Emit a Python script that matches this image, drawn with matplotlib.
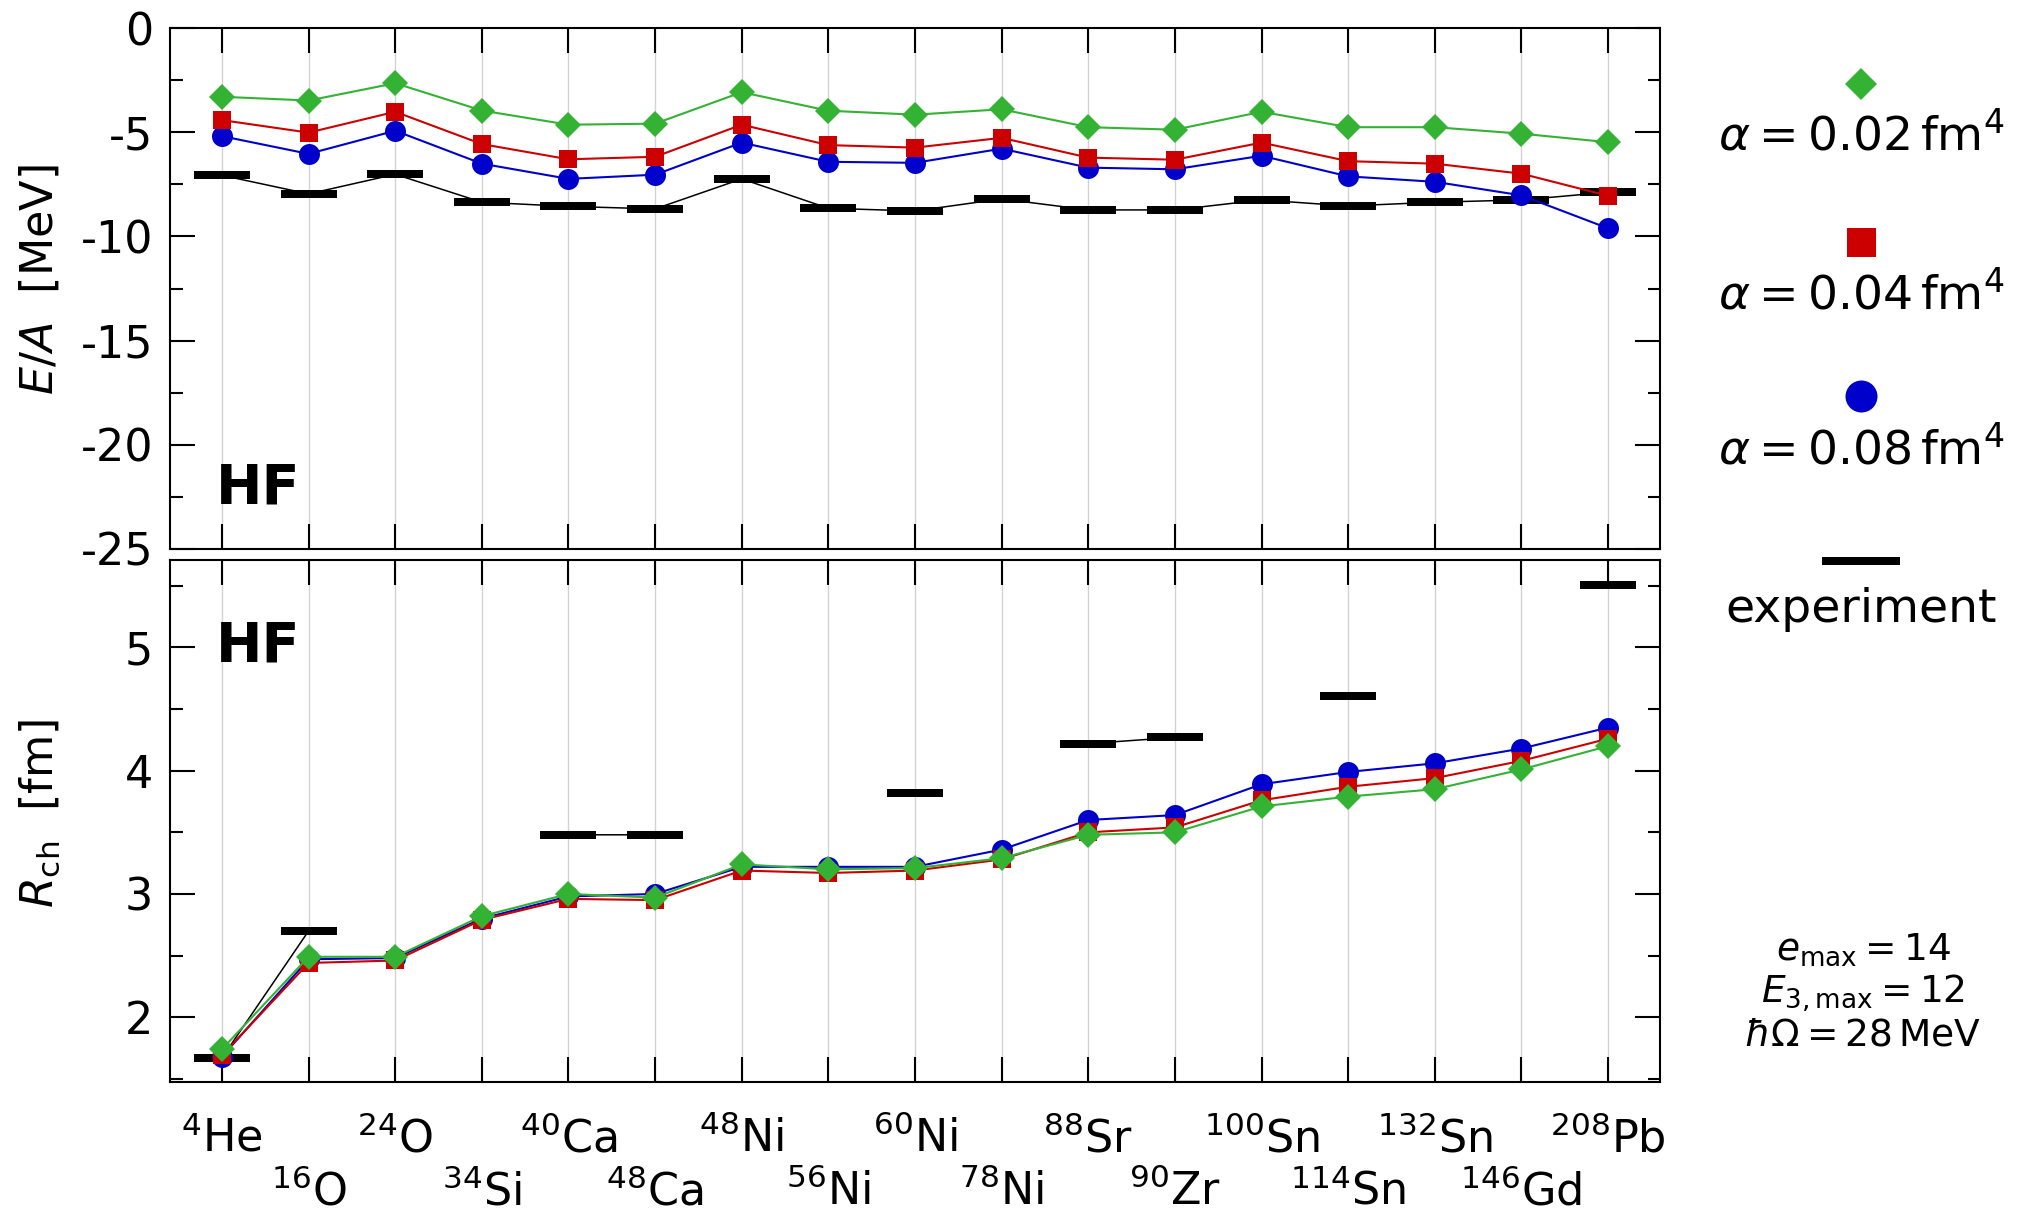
import numpy as np
import matplotlib
matplotlib.use("Agg")
import matplotlib.pyplot as plt
from matplotlib.ticker import MultipleLocator

plt.rcParams['font.family'] = ['DejaVu Sans']
plt.rcParams['mathtext.fontset'] = 'dejavusans'
plt.rcParams['axes.unicode_minus'] = False

# ---------------- data ----------------
nuclei = ['$^{4}$He', '$^{16}$O', '$^{24}$O', '$^{34}$Si', '$^{40}$Ca', '$^{48}$Ca',
          '$^{48}$Ni', '$^{56}$Ni', '$^{60}$Ni', '$^{78}$Ni', '$^{88}$Sr', '$^{90}$Zr',
          '$^{100}$Sn', '$^{114}$Sn', '$^{132}$Sn', '$^{146}$Gd', '$^{208}$Pb']

EA_002 = [-3.30, -3.48, -2.65, -3.96, -4.64, -4.59, -3.08, -3.97, -4.16, -3.90,
          -4.76, -4.88, -4.02, -4.76, -4.76, -5.07, -5.48]
EA_004 = [-4.42, -5.02, -4.02, -5.57, -6.30, -6.18, -4.64, -5.62, -5.74, -5.27,
          -6.22, -6.32, -5.50, -6.39, -6.51, -6.99, -8.05]
EA_008 = [-5.19, -6.04, -4.93, -6.51, -7.24, -7.04, -5.50, -6.42, -6.47, -5.79,
          -6.70, -6.78, -6.13, -7.12, -7.38, -8.03, -9.61]
EA_exp = [-7.07, -7.96, -7.02, -8.36, -8.56, -8.68, -7.24, -8.65, -8.78, -8.20,
          -8.73, -8.73, -8.25, -8.54, -8.36, -8.25, -7.88]

nan = np.nan
Rch_002 = [1.74, 2.49, 2.49, 2.82, 3.00, 2.97, 3.24, 3.20, 3.21, 3.29,
           3.48, 3.50, 3.71, 3.79, 3.85, 4.01, 4.20]
Rch_004 = [1.69, 2.44, 2.46, 2.79, 2.96, 2.95, 3.19, 3.17, 3.19, 3.28,
           3.50, 3.54, 3.76, 3.87, 3.94, 4.08, 4.26]
Rch_008 = [1.68, 2.47, 2.48, 2.80, 2.98, 3.00, 3.22, 3.22, 3.22, 3.36,
           3.60, 3.64, 3.89, 3.99, 4.06, 4.18, 4.35]
Rch_exp = [1.67, 2.70, nan, nan, 3.48, 3.48, nan, nan, 3.82, nan,
           4.22, 4.27, nan, 4.61, nan, nan, 5.51]

series_labels = [r'$\alpha = 0.02\,\mathrm{fm}^4$',
                 r'$\alpha = 0.04\,\mathrm{fm}^4$',
                 r'$\alpha = 0.08\,\mathrm{fm}^4$',
                 'experiment']
params_text = [r'$e_{\mathrm{max}} = 14$',
               r'$E_{3,\mathrm{max}} = 12$',
               r'$\hbar\Omega = 28\,\mathrm{MeV}$']

# ---------------- style ----------------
GREEN = '#33b233'
RED = '#cc0000'
BLUE = '#0000cc'
GRID = '#d2d2d2'
px = 72.0 / 100.0  # points per pixel at dpi 100

W, H = 2027, 1212
fig = plt.figure(figsize=(W / 100, H / 100), dpi=100)

L, R = 170, 1660
T1, B1 = 28, 549
T2, B2 = 560, 1082
ax1 = fig.add_axes([L / W, 1 - B1 / H, (R - L) / W, (B1 - T1) / H])
ax2 = fig.add_axes([L / W, 1 - B2 / H, (R - L) / W, (B2 - T2) / H])

x = np.arange(len(nuclei))

style_common = dict(linestyle='-', markeredgewidth=0)
for ax, data in ((ax1, (EA_exp, EA_008, EA_004, EA_002)),
                 (ax2, (Rch_exp, Rch_008, Rch_004, Rch_002))):
    exp, d8, d4, d2 = data
    for xi in x:
        ax.axvline(xi, color=GRID, lw=1.0, zorder=0)
    ax.plot(x, exp, color='black', lw=1.1, marker='_', markersize=56 * px,
            markeredgewidth=8 * px, zorder=2)
    ax.plot(x, d8, color=BLUE, lw=1.5, marker='o', markersize=21 * px,
            markerfacecolor=BLUE, zorder=3, **style_common)
    ax.plot(x, d4, color=RED, lw=1.5, marker='s', markersize=18.5 * px,
            markerfacecolor=RED, zorder=4, **style_common)
    ax.plot(x, d2, color=GREEN, lw=1.5, marker='D', markersize=17.7 * px,
            markerfacecolor=GREEN, zorder=5, **style_common)

    ax.set_xlim(-0.6, 16.6)
    for s in ax.spines.values():
        s.set_linewidth(1.5)
    ax.tick_params(which='both', direction='in', top=True, right=True,
                   width=1.5, labelsize=32)
    ax.tick_params(which='major', length=18)
    ax.tick_params(which='minor', length=9)

# upper panel
ax1.set_ylim(-25, 0)
ax1.yaxis.set_major_locator(MultipleLocator(5))
ax1.yaxis.set_minor_locator(MultipleLocator(2.5))
ax1.set_xticks(x)
ax1.tick_params(axis='x', labelbottom=False)
ax1.tick_params(axis='y', pad=12)

# lower panel
ax2.set_ylim(1.474, 5.71)
ax2.yaxis.set_major_locator(MultipleLocator(1))
ax2.yaxis.set_minor_locator(MultipleLocator(0.5))
ax2.tick_params(axis='y', pad=12)
even = x[0::2]
odd = x[1::2]
ax2.set_xticks(even, [nuclei[i] for i in even])
ax2.set_xticks(odd, [nuclei[i] for i in odd], minor=True)
ax2.tick_params(axis='x', which='both', length=18, labelsize=32)
ax2.tick_params(axis='x', which='major', pad=25)
ax2.tick_params(axis='x', which='minor', pad=63)

# panel tags
for ax, yb, T, B in ((ax1, 503, T1, B1), (ax2, 661, T2, B2)):
    ax.text((216 - L) / (R - L), (B - yb) / (B - T), 'HF', transform=ax.transAxes,
            fontsize=40, fontweight='bold', ha='left', va='baseline')

# axis labels
fig.text(40 / W, 1 - 280 / H, r'$E/A$  [MeV]', rotation=90, fontsize=32,
         ha='center', va='center')
fig.text(40 / W, 1 - 813 / H, r'$R_{\mathrm{ch}}$  [fm]', rotation=90, fontsize=32,
         ha='center', va='center')

# legend (markers above labels)
lax = fig.add_axes([0, 0, 1, 1], facecolor='none')
lax.set_xlim(0, W)
lax.set_ylim(H, 0)
lax.axis('off')
lx = 1861
marker_specs = [('D', GREEN, 32 / 1.414, 0), ('s', RED, 29, 0), ('o', BLUE, 32, 0),
                ('_', 'black', 78, 8)]
marker_y = [84, 242, 396, 561]
text_y = [136, 295, 450, 610]
for (mk, c, ms, mew), my, ty, lab in zip(marker_specs, marker_y, text_y, series_labels):
    lax.plot([lx], [my], marker=mk, color=c, markersize=ms * px,
             markeredgewidth=mew * px, linestyle='none')
    lax.text(lx, ty, lab, fontsize=34, ha='center', va='center')

for ty, t in zip([950, 993, 1036], params_text):
    lax.text(1863, ty, t, fontsize=27, ha='center', va='center')

fig.savefig('out.png', dpi=100)
